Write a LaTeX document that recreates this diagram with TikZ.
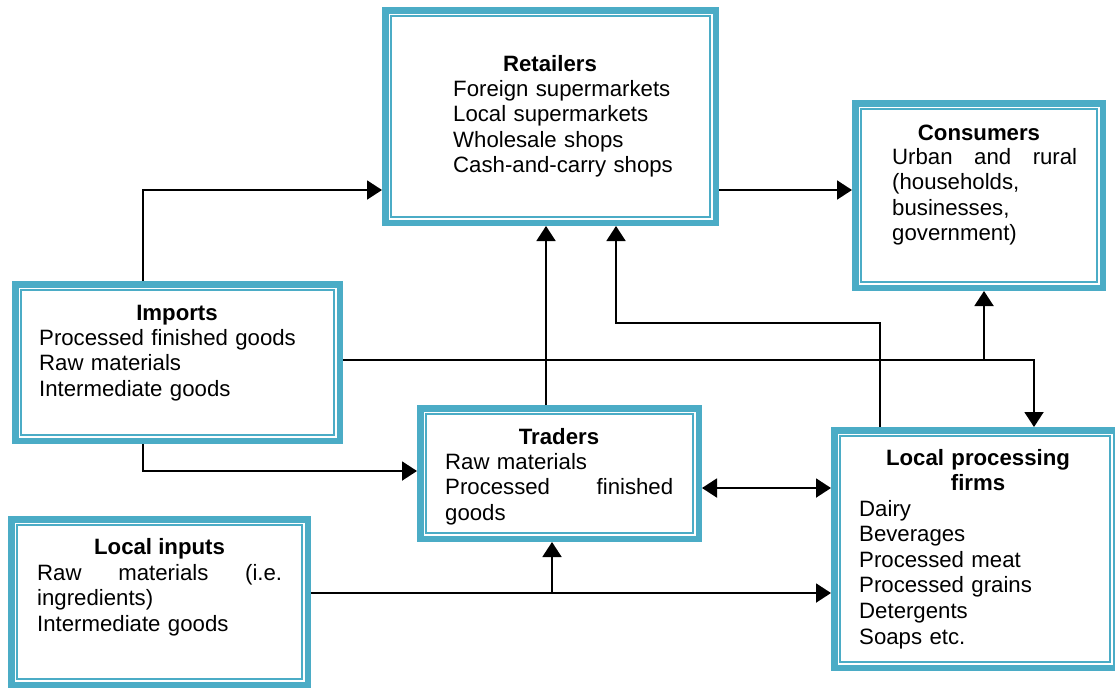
\documentclass[tikz,border=0pt]{standalone}
\usepackage{fontspec}
\setmainfont{Liberation Sans}
\usetikzlibrary{positioning,arrows.meta}
\definecolor{boxblue}{RGB}{75,172,198}
\tikzset{
  chainbox/.style={draw=boxblue, line width=6.5pt, fill=white, inner sep=0pt,
    path picture={\draw[boxblue, line width=1.6pt]
      ([shift={(6pt,-6pt)}]path picture bounding box.north west) rectangle
      ([shift={(-6pt,6pt)}]path picture bounding box.south east);}},
  ttl/.style={font=\fontsize{22.2}{25.6}\selectfont\bfseries, inner sep=0pt, align=center},
  itm/.style={font=\fontsize{22.2}{25.6}\selectfont, inner sep=0pt, align=left},
  flow/.style={-{Triangle[length=15pt,width=19pt]}, line width=1.9pt},
  flowboth/.style={{Triangle[length=15pt,width=19pt]}-{Triangle[length=15pt,width=19pt]}, line width=1.9pt}
}
\begin{document}
\begin{tikzpicture}[x=1pt,y=-1pt]
      \useasboundingbox (0,0) rectangle (1115,689);

      % boxes
      \node[chainbox, minimum width=330.5pt, minimum height=212.5pt] (ret) at (550.5,116.5) {};
      \node[chainbox, minimum width=247.5pt, minimum height=184.5pt] (con) at (979,195.5) {};
      \node[chainbox, minimum width=324.5pt, minimum height=156.5pt] (imp) at (177.5,362.5) {};
      \node[chainbox, minimum width=278.5pt, minimum height=130.5pt] (tra) at (559.5,473.5) {};
      \node[chainbox, minimum width=296.5pt, minimum height=165.5pt] (lin) at (159.5,602) {};
      \node[chainbox, minimum width=281.5pt, minimum height=237.5pt] (lpf) at (975,549) {};

      % texts
      \node[ttl, anchor=base] (ret-t) at (550,71) {Retailers};
      \node[itm, anchor=base west, text width=240pt] (ret-i) at (453,96) {Foreign supermarkets\\Local supermarkets\\Wholesale shops\\Cash-and-carry shops};

      \node[ttl, anchor=base] (con-t) at (979,140) {Consumers};
      \node[itm, anchor=base west, text width=185pt] (con-i) at (892,164) {Urban\hfill and\hfill rural\\(households,\\businesses,\\government)};

      \node[ttl, anchor=base] (imp-t) at (177,320) {Imports};
      \node[itm, anchor=base west, text width=280pt] (imp-i) at (39,345) {Processed finished goods\\Raw materials\\Intermediate goods};

      \node[ttl, anchor=base] (tra-t) at (559,444) {Traders};
      \node[itm, anchor=base west, text width=228pt] (tra-i) at (445,469) {Raw materials\\Processed\hfill finished\\goods};

      \node[ttl, anchor=base] (lin-t) at (159.5,554) {Local inputs};
      \node[itm, anchor=base west, text width=245pt] (lin-i) at (37,580) {Raw\hfill materials\hfill (i.e.\\ingredients)\\Intermediate goods};

      \node[ttl, anchor=base, text width=250pt] (lpf-t) at (978,465) {Local processing\\firms};
      \node[itm, anchor=base west, text width=220pt] (lpf-i) at (859,516) {Dairy\\Beverages\\Processed meat\\Processed grains\\Detergents\\Soaps etc.};

      % bends and junctions
      \coordinate (k1) at (143,190);
      \coordinate (k2) at (546,300);
      \coordinate (k3) at (616,323);
      \coordinate (k4) at (880,323);
      \coordinate (k5) at (1034,360);
      \coordinate (j1) at (984,360);
      \coordinate (k6) at (143,471);
      \coordinate (k7) at (760,488);
      \coordinate (j2) at (552,593);

      % connectors
      \draw[flow] (imp.north -| k1) -- (k1) -- (ret.west |- k1);
      \draw[flow] (ret.east |- k1) -- (con.west |- k1);
      \draw[flow] (tra.north -| k2) -- (ret.south -| k2);
      \draw[flow] (lpf.north -| k4) -- (k4) -- (k3) -- (ret.south -| k3);
      \draw[flow] (imp.east |- k5) -- (k5) -- (lpf.north -| k5);
      \draw[flow] (j1) -- (con.south -| j1);
      \draw[flow] (imp.south -| k6) -- (k6) -- (tra.west |- k6);
      \draw[flowboth] (tra.east |- k7) -- (lpf.west |- k7);
      \draw[flow] (lin.east |- j2) -- (lpf.west |- j2);
      \draw[flow] (j2) -- (tra.south -| j2);

\end{tikzpicture}
\end{document}
